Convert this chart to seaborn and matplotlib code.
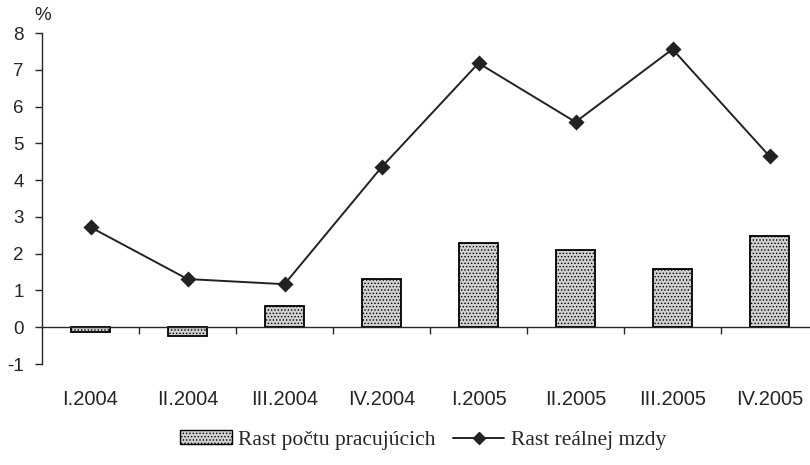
import pandas as pd
import seaborn as sns
import matplotlib.pyplot as plt
from matplotlib.patches import Patch
from matplotlib.lines import Line2D

# Data
quarters = ['I.2004', 'II.2004', 'III.2004', 'IV.2004', 'I.2005', 'II.2005', 'III.2005', 'IV.2005']
employment_growth = [-0.13, -0.25, 0.57, 1.30, 2.28, 2.10, 1.57, 2.47]
real_wage_growth = [2.72, 1.31, 1.17, 4.35, 7.18, 5.58, 7.56, 4.65]

df = pd.DataFrame({'quarter': quarters,
                   'employment': employment_growth,
                   'wage': real_wage_growth})

sns.set_style('white')
plt.rcParams['font.family'] = ['Liberation Sans', 'DejaVu Sans']
plt.rcParams['axes.unicode_minus'] = False
plt.rcParams['hatch.color'] = '#8a8a8a'
plt.rcParams['hatch.linewidth'] = 0.6

fig = plt.figure(figsize=(8.1, 4.65), dpi=100)
ax = fig.add_axes([42 / 810, 1 - 364 / 465, 776 / 810, 331 / 465])

# Bars
sns.barplot(data=df, x='quarter', y='employment', order=quarters, ax=ax,
            color='#d0d0d0', width=0.41, edgecolor='black', linewidth=1.3,
            saturation=1)
for p in ax.patches:
    p.set_hatch('.....')
    p.set_edgecolor('black')

# Line
sns.pointplot(data=df, x='quarter', y='wage', order=quarters, ax=ax,
              color='#222222', markers='D', markersize=7, linewidth=1.4)

ax.set_xlim(-0.5, 7.5)
ax.set_ylim(-1, 8)
ax.set_yticks(range(-1, 9))
ax.set_xlabel('')
ax.set_ylabel('')

# axes styling
ax.spines['top'].set_visible(False)
ax.spines['right'].set_visible(False)
ax.spines['bottom'].set_position(('data', 0))
ax.spines['bottom'].set_linewidth(1.0)
ax.spines['left'].set_linewidth(1.0)
ax.tick_params(axis='y', which='major', direction='out', length=5, width=1,
               labelsize=13.5, pad=8, left=True)
ax.tick_params(axis='x', which='major', length=0, labelsize=14.5, pad=45)
ax.set_xticks([i + 0.5 for i in range(8)], minor=True)
ax.tick_params(axis='x', which='minor', direction='out', length=5, width=1,
               bottom=True)

fig.text(43 / 810, 1 - 15 / 465, '%', fontsize=13.5, ha='center', va='center')

handles = [Patch(facecolor='#d0d0d0', edgecolor='black', hatch='.....', linewidth=1),
           Line2D([0], [0], color='#222222', marker='D', markersize=6, linewidth=1.4)]
fig.legend(handles, ['Rast počtu pracujúcich', 'Rast reálnej mzdy'],
           loc='center', bbox_to_anchor=(423 / 810, 1 - 440 / 465), ncol=2,
           frameon=False, prop={'family': 'Liberation Serif', 'size': 15.5},
           handlelength=2.4, handleheight=0.6, columnspacing=0.8, handletextpad=0.3)

fig.savefig('out.png', dpi=100)
